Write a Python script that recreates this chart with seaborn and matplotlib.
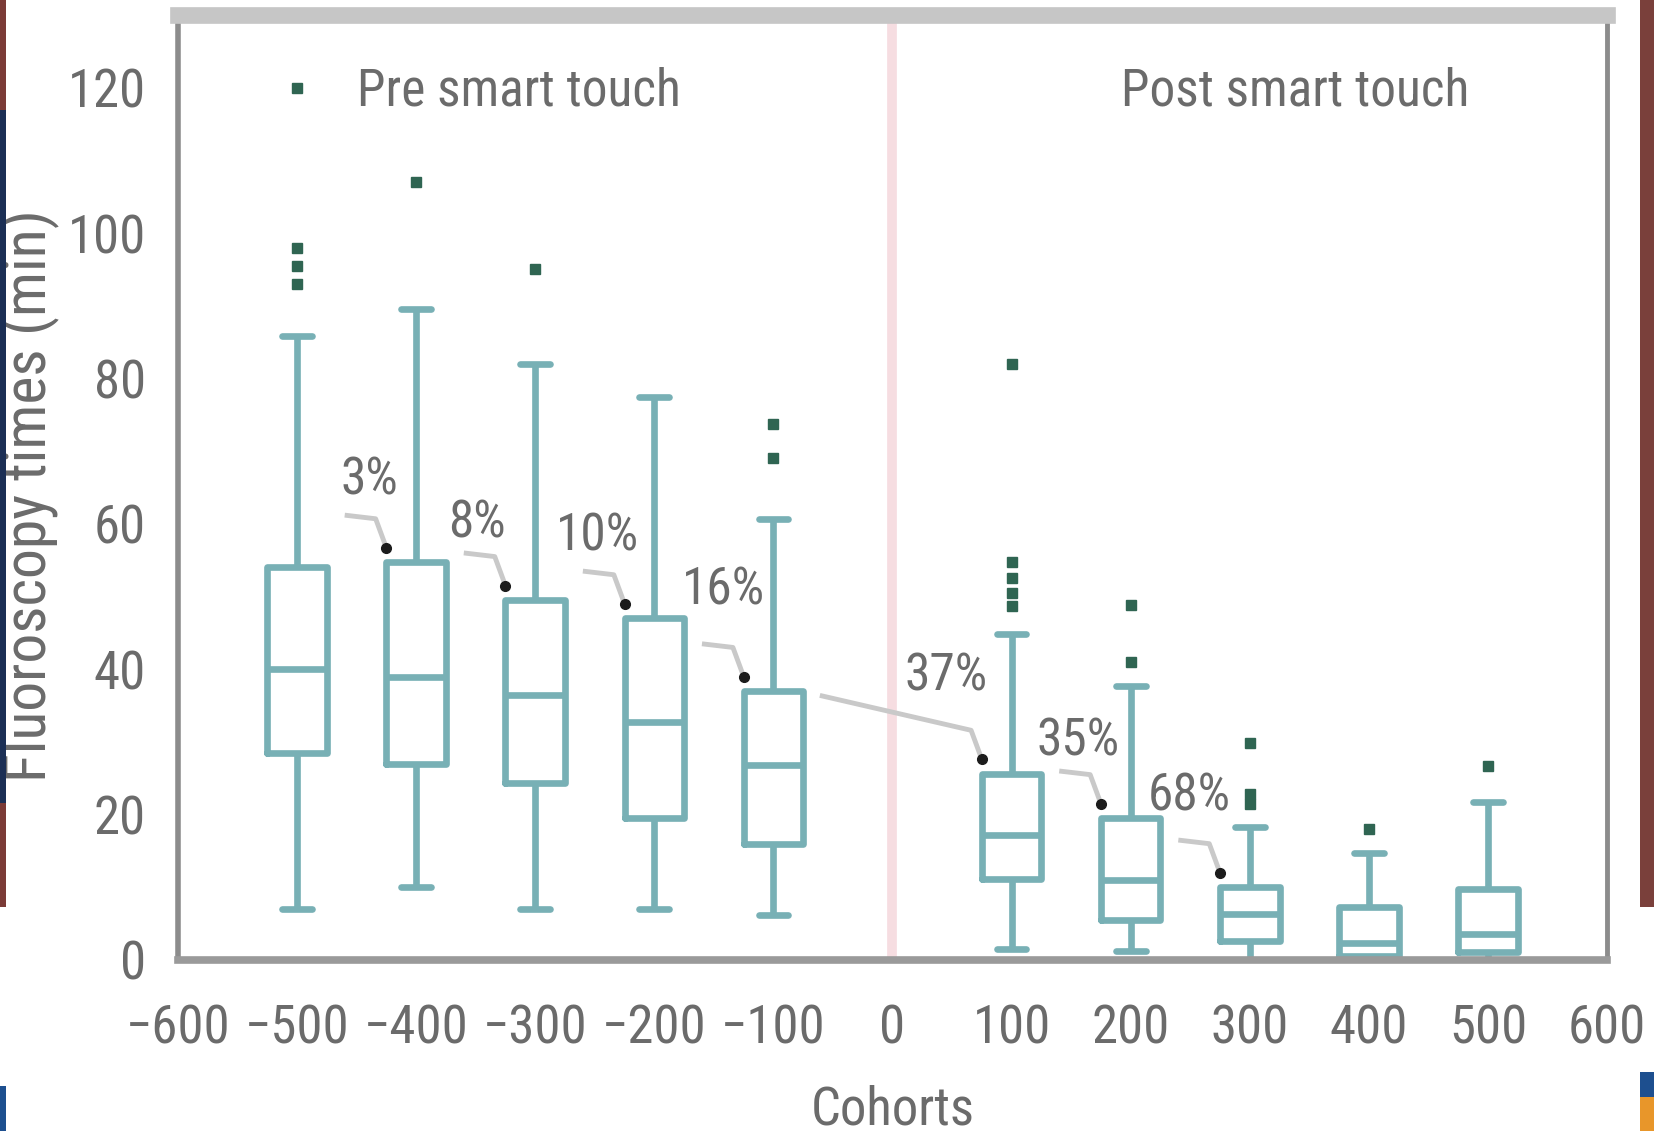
import matplotlib
matplotlib.use("Agg")
import matplotlib.pyplot as plt
from matplotlib.patches import Rectangle
from matplotlib.ticker import MultipleLocator, FixedLocator
import numpy as np
import pandas as pd
import seaborn as sns

# Fluoroscopy time per cohort: five-number summaries and outlying cases
cohorts = [-500, -400, -300, -200, -100, 100, 200, 300, 400, 500]
whisker_low = [7.0, 10.0, 7.0, 7.0, 6.2, 1.5, 1.2, 0.0, 0.0, 0.0]
q1 = [28.5, 26.9, 24.4, 19.6, 16.0, 11.2, 5.5, 2.6, 0.6, 1.1]
median = [40.1, 39.0, 36.5, 32.7, 26.8, 17.2, 11.0, 6.3, 2.4, 3.6]
q3 = [54.0, 54.7, 49.5, 47.0, 37.0, 25.6, 19.5, 10.0, 7.3, 9.7]
whisker_high = [85.9, 89.6, 82.0, 77.5, 60.7, 44.9, 37.7, 18.3, 14.7, 21.8]
outliers = [[93.0, 95.5, 98.0, 120.0], [107.0], [95.0], [], [69.0, 73.8],
            [48.7, 50.5, 52.5, 54.8, 82.0], [41.0, 48.8], [21.5, 22.8, 29.8],
            [18.0], [26.7]]

# Reduction vs. previous cohort, marked at the upper-left corner of each box
reduction_cohorts = [-400, -300, -200, -100, 100, 200, 300]
reduction_labels = ["3%", "8%", "10%", "16%", "37%", "35%", "68%"]

x_ticks = list(range(-600, 601, 100))
y_ticks = list(range(0, 121, 20))

# Long-form table: each summary value is weighted so the quartiles land exactly
rows = []
for c, lo, a, m, b, hi, out in zip(cohorts, whisker_low, q1, median, q3,
                                   whisker_high, outliers):
    vals = [lo] + [a] * 20 + [m] * 20 + [b] * 20 + [hi] + list(out)
    rows += [(c, v) for v in vals]
df = pd.DataFrame(rows, columns=["cohort", "minutes"])

sns.set_style("white")
plt.rcParams["font.family"] = ["Liberation Sans Narrow", "Roboto Condensed",
                               "DejaVu Sans"]
plt.rcParams["font.stretch"] = "condensed"
plt.rcParams["axes.unicode_minus"] = True

TEAL = "#78b0b5"
GRAY_TXT = "#6b6b6b"
AX_GRAY = "#8c8c8c"
FS = 38
FS_NOTE = 37

fig = plt.figure(figsize=(16.54, 11.31), dpi=100)
ax = fig.add_axes([0.1076, 0.1512, 0.864, 0.8355])

# thin coloured side borders
for x0, y0, w, h, col in [
        (0.0, 0.903, 0.0036, 0.097, "#7b3b37"),
        (0.0, 0.29, 0.0036, 0.613, "#1b2f55"),
        (0.0, 0.198, 0.0036, 0.092, "#7b3b37"),
        (0.0, 0.0, 0.0036, 0.04, "#1d4f8f"),
        (0.9915, 0.198, 0.0085, 0.802, "#7a403b"),
        (0.9915, 0.03, 0.0085, 0.022, "#1d4f8f"),
        (0.9915, 0.0, 0.0085, 0.03, "#e8962a")]:
    fig.patches.append(Rectangle((x0, y0), w, h, transform=fig.transFigure,
                                 facecolor=col, edgecolor="none", zorder=0))

ax.axvline(0, color="#f6dde1", lw=7, zorder=0.5)

sns.boxplot(data=df, x="cohort", y="minutes", native_scale=True, width=0.5,
            fill=False, color=TEAL, linewidth=4.8, whis=1.5,
            flierprops=dict(marker="s", markersize=6.5,
                            markerfacecolor="#2f6552",
                            markeredgecolor="#2f6552"),
            ax=ax, zorder=2)

for ln in ax.lines:
    if ln.get_marker() == "s":
        ln.set_markerfacecolor("#2f6552")
        ln.set_markeredgecolor("#2f6552")

ax.set_xlim(-600, 600)
ax.set_ylim(0, 130)
ax.xaxis.set_major_locator(FixedLocator(x_ticks))
ax.xaxis.set_minor_locator(MultipleLocator(10))
ax.yaxis.set_major_locator(FixedLocator(y_ticks))
ax.yaxis.set_minor_locator(MultipleLocator(10))
ax.set_xticklabels([f"{t}".replace("-", "\u2212") for t in x_ticks])
ax.set_yticklabels([str(t) for t in y_ticks])

ax.tick_params(axis="x", which="major", direction="out", length=19, width=3,
               color=AX_GRAY, pad=12, labelsize=FS, labelcolor=GRAY_TXT)
ax.tick_params(axis="x", which="minor", direction="out", length=7, width=2.2,
               color=AX_GRAY)
ax.tick_params(axis="y", which="major", direction="out", length=17, width=3,
               color=AX_GRAY, pad=6, labelsize=FS, labelcolor=GRAY_TXT)
ax.tick_params(axis="y", which="minor", direction="out", length=7, width=2.5,
               color=AX_GRAY)

for side, lw, col in [("left", 4, AX_GRAY), ("right", 3.5, AX_GRAY),
                      ("bottom", 5.5, "#9a9a9a"), ("top", 12, "#c6c6c6")]:
    ax.spines[side].set_visible(True)
    ax.spines[side].set_linewidth(lw)
    ax.spines[side].set_color(col)

ax.set_xlabel("Cohorts", fontsize=FS, color=GRAY_TXT, va="baseline")
ax.xaxis.set_label_coords(0.5, -0.1745)
ax.set_ylabel("Fluoroscopy times (min)", fontsize=43, color=GRAY_TXT,
              va="center")
ax.yaxis.set_label_coords(-0.104, 0.491)

ax.text(-450, 119.5, "Pre smart touch", fontsize=FS_NOTE, color=GRAY_TXT,
        ha="left", va="center")
ax.text(192, 119.5, "Post smart touch", fontsize=FS_NOTE, color=GRAY_TXT,
        ha="left", va="center")

# Leader lines and labels for the reduction percentages
q3_by_cohort = dict(zip(cohorts, q3))
text_offsets = [(-14, 9.3), (-24, 8.5), (-23, 9.3), (-17, 11.8),
                (-30, 11.4), (-19, 8.5), (-26, 10.5)]
for c, lab, (tdx, tdy) in zip(reduction_cohorts, reduction_labels, text_offsets):
    dx, dy = c - 25, q3_by_cohort[c] + 2
    start = (dx - 136, dy + 8.8) if lab == "37%" else (dx - 35, dy + 4.5)
    elbow = (dx - 9, dy + 4)
    ax.plot([start[0], elbow[0], dx], [start[1], elbow[1], dy],
            color="#c9c9c9", lw=3.5, solid_capstyle="butt", zorder=4)
    ax.plot(dx, dy, marker="o", markersize=7, color="#1c1c1c", zorder=5)
    ax.text(dx + tdx, dy + tdy, lab, fontsize=FS_NOTE, color=GRAY_TXT,
            ha="center", va="center", zorder=6)

fig.savefig("out.png", dpi=100)
